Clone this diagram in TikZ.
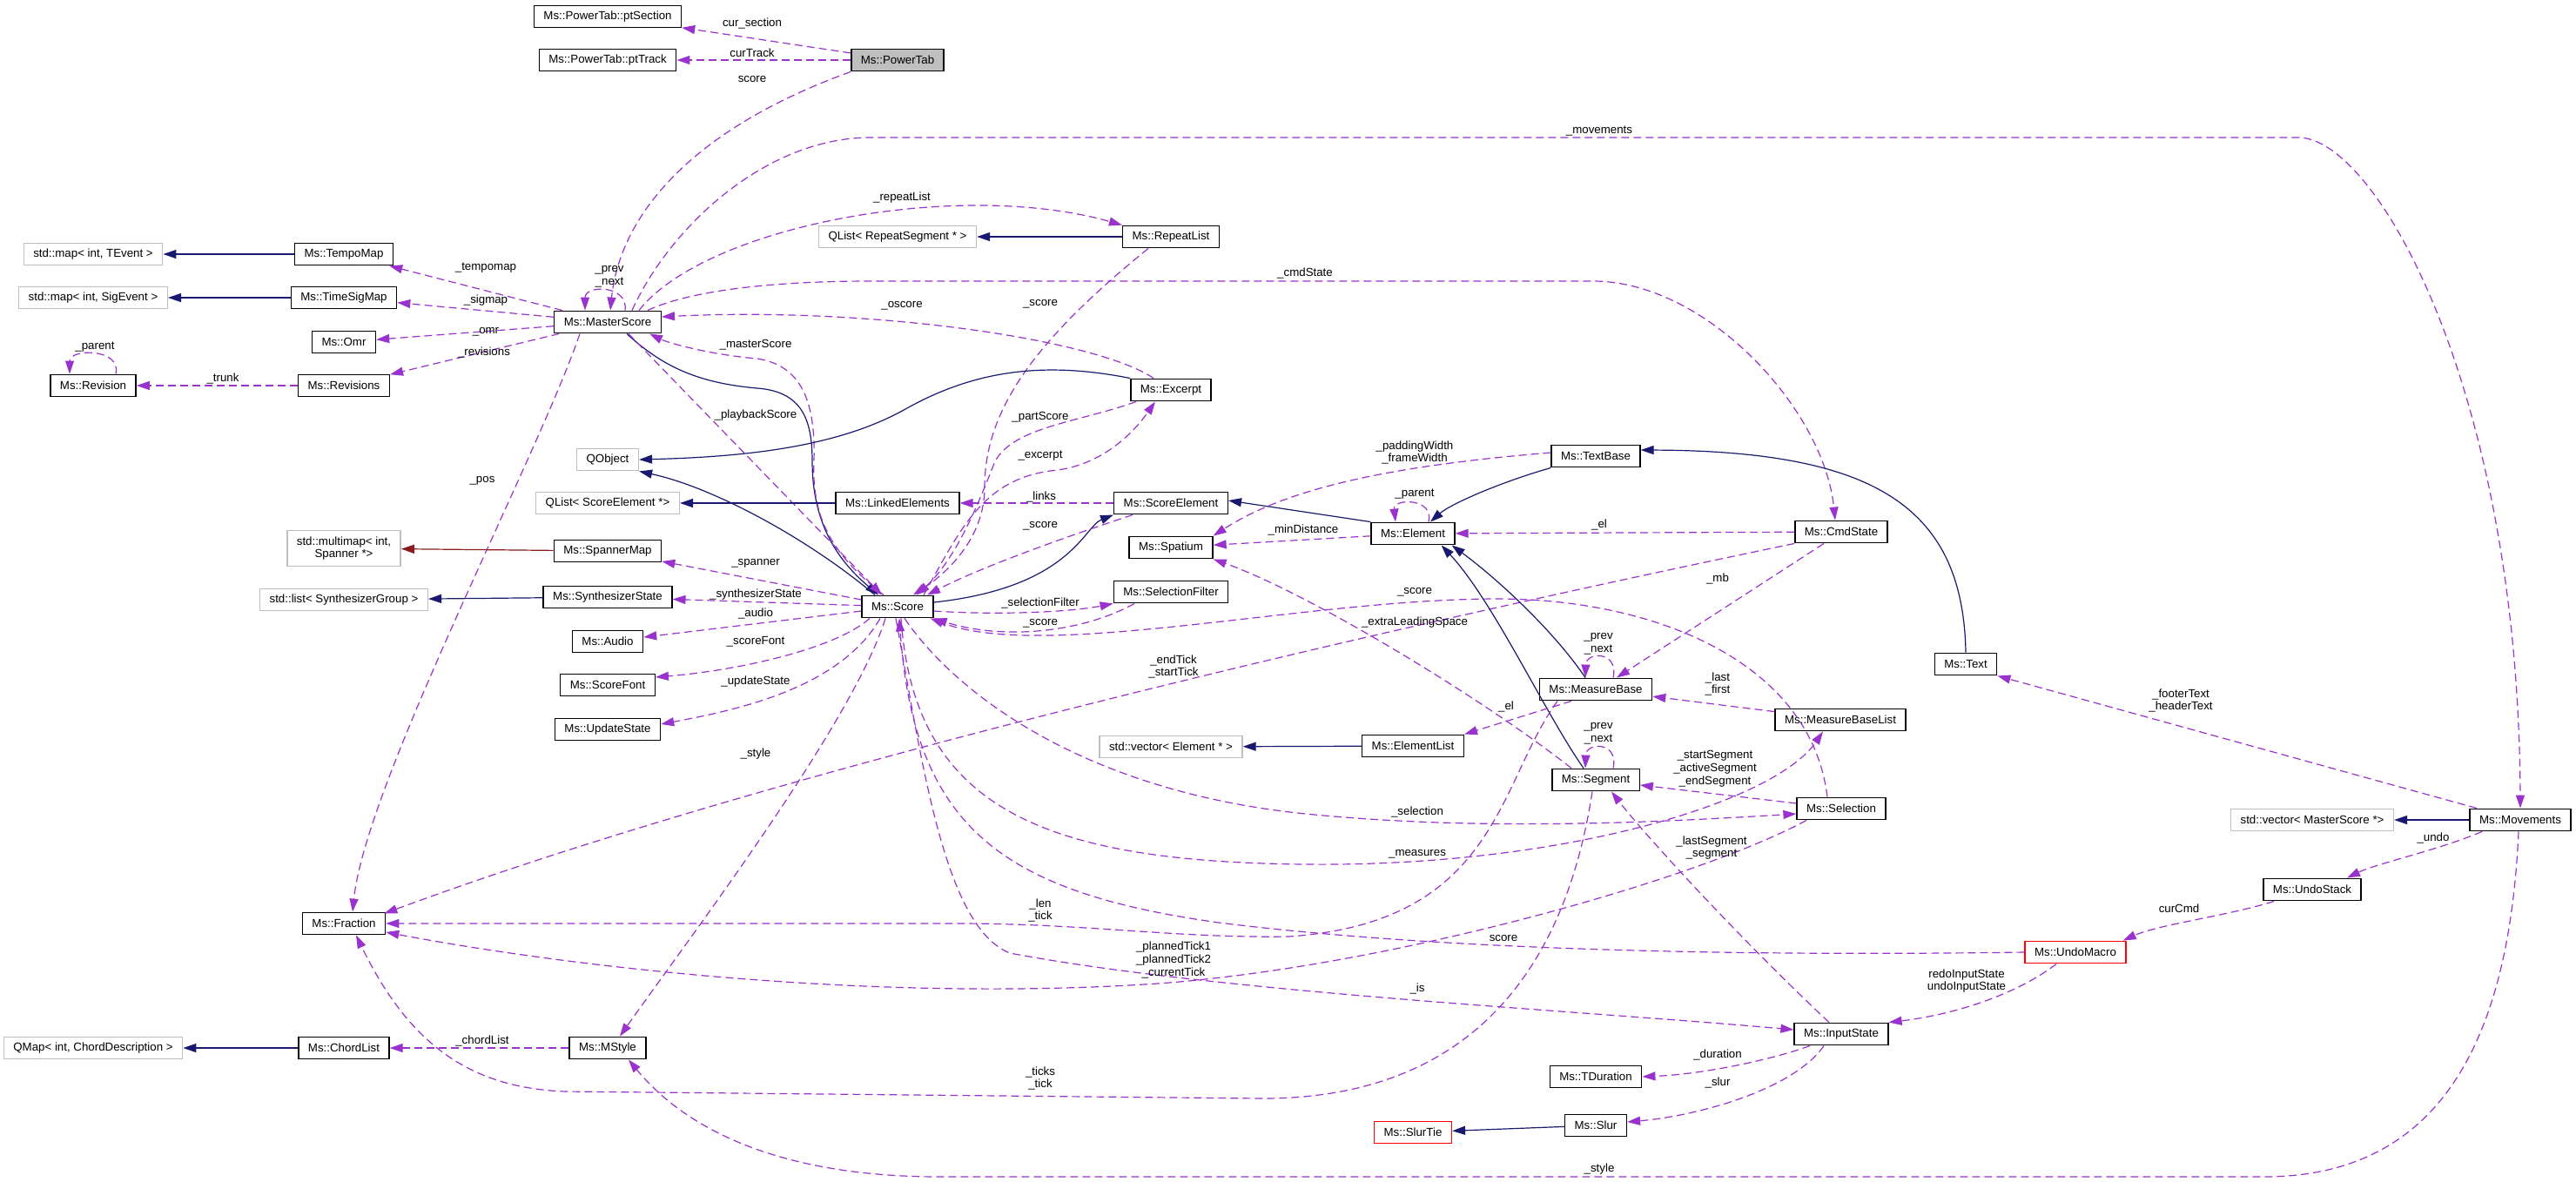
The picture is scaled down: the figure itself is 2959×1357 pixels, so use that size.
\documentclass[tikz,border=0pt]{standalone}
\usepackage{fontspec}
\setmainfont{Liberation Sans}
\usepackage{tikz}
\usetikzlibrary{arrows.meta}
\definecolor{useline}{HTML}{9A32CD}
\definecolor{inhline}{HTML}{191970}
\definecolor{tplline}{HTML}{8B1A1A}
\definecolor{extgray}{HTML}{BFBFBF}

\begin{document}
\begin{tikzpicture}[x=0.5pt, y=-0.5pt,
	every node/.style={font=\fontsize{6.65pt}{7.4pt}\selectfont},
	cls/.style={draw=black, line width=0.7pt, fill=white, inner xsep=5.5pt, inner ysep=1pt, minimum height=12.75pt},
	ext/.style={cls, draw=extgray},
	uses/.style={draw=useline, line width=0.6pt, dash pattern=on 4.5pt off 2.5pt, -{Triangle[length=7.5pt, width=5pt]}},
	isa/.style={draw=inhline, line width=0.6pt, -{Triangle[length=7.5pt, width=5pt]}},
	tpl/.style={isa, draw=tplline},
	lbl/.style={inner sep=0.5pt, align=center}]
	\useasboundingbox (0,0) rectangle (2959,1357);

	\node[ext] (mapTEvent) at (107,292) {std::map< int, TEvent >};
	\node[ext] (mapSigEvent) at (107,342) {std::map< int, SigEvent >};
	\node[cls] (revision) at (107,443) {Ms::Revision};
	\node[ext] (qmapChord) at (107,1204) {QMap< int, ChordDescription >};

	\node[cls] (tempoMap) at (395,292) {Ms::TempoMap};
	\node[cls] (timeSigMap) at (395,342) {Ms::TimeSigMap};
	\node[cls] (omr) at (395,393) {Ms::Omr};
	\node[cls] (revisions) at (395,443) {Ms::Revisions};
	\node[ext, align=center, minimum height=20.5pt] (spannerMultimap) at (395,630) {std::multimap< int,\\Spanner *>};
	\node[ext] (synthList) at (395,689) {std::list< SynthesizerGroup >};
	\node[cls] (fraction) at (395,1061) {Ms::Fraction};
	\node[cls] (chordList) at (395,1204) {Ms::ChordList};

	\node[cls] (ptSection) at (698,19) {Ms::PowerTab::ptSection};
	\node[cls] (ptTrack) at (698,69) {Ms::PowerTab::ptTrack};
	\node[cls] (masterScore) at (698,370) {Ms::MasterScore};
	\node[ext] (qobject) at (698,528) {QObject};
	\node[ext] (seList) at (698,578) {QList< ScoreElement *>};
	\node[cls] (spannerMap) at (698,633) {Ms::SpannerMap};
	\node[cls] (synthState) at (698,686) {Ms::SynthesizerState};
	\node[cls] (audio) at (698,737) {Ms::Audio};
	\node[cls] (scoreFont) at (698,787) {Ms::ScoreFont};
	\node[cls] (updateState) at (698,838) {Ms::UpdateState};
	\node[cls] (mstyle) at (698,1204) {Ms::MStyle};

	\node[cls, fill=extgray] (powerTab) at (1031,69) {Ms::PowerTab};
	\node[ext] (rsList) at (1031,272) {QList< RepeatSegment * >};
	\node[cls] (linkedElements) at (1031,578) {Ms::LinkedElements};
	\node[cls] (score) at (1031,697) {Ms::Score};

	\node[cls] (repeatList) at (1345,272) {Ms::RepeatList};
	\node[cls] (excerpt) at (1345,448) {Ms::Excerpt};
	\node[cls] (scoreElement) at (1345,578) {Ms::ScoreElement};
	\node[cls] (spatium) at (1345,629) {Ms::Spatium};
	\node[cls] (selectionFilter) at (1345,680) {Ms::SelectionFilter};
	\node[ext] (vecElement) at (1345,858) {std::vector< Element * >};

	\node[cls] (element) at (1623,613) {Ms::Element};
	\node[cls] (elementList) at (1623,857) {Ms::ElementList};
	\node[cls, draw=red] (slurTie) at (1623,1301) {Ms::SlurTie};

	\node[cls] (textBase) at (1833,524) {Ms::TextBase};
	\node[cls] (measureBase) at (1833,792) {Ms::MeasureBase};
	\node[cls] (segment) at (1833,896) {Ms::Segment};
	\node[cls] (tduration) at (1833,1237) {Ms::TDuration};
	\node[cls] (slur) at (1833,1293) {Ms::Slur};

	\node[cls] (cmdState) at (2115,611) {Ms::CmdState};
	\node[cls] (measureBaseList) at (2114,827) {Ms::MeasureBaseList};
	\node[cls] (selection) at (2115,929) {Ms::Selection};
	\node[cls] (inputState) at (2115,1188) {Ms::InputState};
	\node[cls] (text) at (2258,763) {Ms::Text};
	\node[cls, draw=red] (undoMacro) at (2384,1094) {Ms::UndoMacro};
	\node[ext] (vecMS) at (2656,942) {std::vector< MasterScore *>};
	\node[cls] (undoStack) at (2656,1022) {Ms::UndoStack};
	\node[cls] (movements) at (2895,942) {Ms::Movements};

	\draw[uses] (powerTab) -- (ptSection) node[lbl] (lblCurSection) at (864,27) {cur\_section};
	\draw[uses] (powerTab) -- (ptTrack) node[lbl] (lblCurTrack) at (864,61) {curTrack};
	\draw[uses] (powerTab.south west) .. controls (790,150) and (712,250) .. ([xshift=1.5pt]masterScore.north) node[lbl] (lblPtScore) at (864,91) {score};

	\draw[isa] (tempoMap) -- (mapTEvent);
	\draw[isa] (timeSigMap) -- (mapSigEvent);
	\draw[uses] (masterScore) -- (tempoMap) node[lbl] (lblTempomap) at (558,308) {\_tempomap};
	\draw[uses] (masterScore) -- (timeSigMap) node[lbl] (lblSigmap) at (558,345) {\_sigmap};
	\draw[uses] (masterScore) -- (omr) node[lbl] (lblOmr) at (558,381) {\_omr};
	\draw[uses] (masterScore) -- (revisions) node[lbl] (lblRevisions) at (556,405) {\_revisions};
	\draw[uses] (revisions) -- (revision) node[lbl] (lblTrunk) at (256,435) {\_trunk};
	\draw[uses] ([xshift=13pt]revision.north) .. controls (140,400) and (80,400) .. ([xshift=-13.5pt]revision.north) node[lbl] (lblRevParent) at (109,399) {\_parent};
	\draw[uses] ([xshift=10pt]masterScore.north) .. controls (722,327) and (672,327) .. ([xshift=-13pt]masterScore.north) node[lbl] (lblMsPrev) at (700,318) {\_prev\\\_next};

	\draw[uses] ([xshift=14pt]masterScore.north) .. controls (770,260) and (880,158) .. (1000,158) -- (2640,158) .. controls (2730,158) and (2893,450) .. (movements.north) node[lbl] (lblMovements) at (1837,151) {\_movements};
	\draw[uses] ([xshift=18pt]masterScore.north) .. controls (810,260) and (1100,205) .. (repeatList.north west) node[lbl] (lblRepeatList) at (1036,227) {\_repeatList};
	\draw[isa] (repeatList) -- (rsList);
	\draw[uses] ([xshift=23pt]masterScore.north) .. controls (790,335) and (880,323) .. (1000,323) -- (1830,323) .. controls (1960,323) and (2095,470) .. ([xshift=-3.5pt]cmdState.north) node[lbl] (lblCmdState) at (1499,314) {\_cmdState};
	\draw[uses] ([xshift=-10pt]excerpt.north) .. controls (1260,390) and (1000,352) .. ([yshift=3pt]masterScore.east) node[lbl] (lblOscore) at (1036,351) {\_oscore};
	\draw[uses] ([xshift=-13pt]repeatList.south) .. controls (1190,390) and (1131,470) .. (1131,560) .. controls (1131,620) and (1085,660) .. ([xshift=9pt]score.north) node[lbl] (lblRlScore) at (1195,349) {\_score};

	\draw[isa] ([xshift=11pt]masterScore.south) .. controls (760,420) and (800,440) .. (870,446) .. controls (920,450) and (933,480) .. (933,530) .. controls (933,610) and (970,650) .. ([xshift=-11pt]score.north);
	\draw[uses] ([xshift=-8pt]score.north) .. controls (960,640) and (932,600) .. (935,530) .. controls (937,460) and (920,420) .. (870,412) .. controls (820,408) and (770,395) .. ([xshift=24pt]masterScore.south) node[lbl] (lblMasterScore) at (868,396) {\_masterScore};
	\draw[uses] ([xshift=12pt]masterScore.south) -- ([xshift=-9pt]score.north) node[lbl] (lblPlayback) at (868,477) {\_playbackScore};
	\draw[uses] ([xshift=-16pt]masterScore.south) .. controls (620,520) and (420,900) .. ([xshift=5pt]fraction.north) node[lbl] (lblPos) at (554,552) {\_pos};

	\draw[isa] (excerpt.north west) .. controls (1200,415) and (1120,425) .. (1040,470) .. controls (960,515) and (850,525) .. (qobject.east);
	\draw[isa] ([xshift=-13pt]score.north) .. controls (930,620) and (820,560) .. (qobject.south east);
	\draw[isa] (linkedElements) -- (seList);
	\draw[uses] (scoreElement) -- (linkedElements) node[lbl] (lblLinks) at (1196,571) {\_links};
	\draw[uses] ([xshift=15pt]score.north) .. controls (1105,605) and (1130,548) .. (1215,540) .. controls (1265,533) and (1300,500) .. ([xshift=-9pt]excerpt.south) node[lbl] (lblExcerpt) at (1195,524) {\_excerpt};
	\draw[uses] ([xshift=-20pt]excerpt.south) .. controls (1240,485) and (1165,490) .. (1143,530) .. controls (1125,575) and (1100,640) .. ([xshift=11pt]score.north) node[lbl] (lblPartScore) at (1195,479) {\_partScore};
	\draw[isa] ([yshift=2.5pt]score.east) .. controls (1230,675) and (1245,605) .. (scoreElement.south west);
	\draw[uses] ([xshift=-22pt]scoreElement.south) .. controls (1230,615) and (1130,650) .. ([xshift=17pt]score.north) node[lbl] (lblSeScore) at (1195,604) {\_score};
	\draw[uses] ([yshift=-2.5pt]score.east) .. controls (1150,707) and (1230,703) .. (selectionFilter.south west) node[lbl] (lblSelFilter) at (1195,693) {\_selectionFilter};
	\draw[uses] ([xshift=-21pt]selectionFilter.south) .. controls (1240,728) and (1150,735) .. (score.south east) node[lbl] (lblSfScore) at (1195,716) {\_score};
	\draw[uses] ([xshift=-8pt]selection.north) .. controls (2080,760) and (1900,688) .. (1720,688) .. controls (1500,688) and (1200,760) .. ([xshift=-2pt]score.south east) node[lbl] (lblSelScore) at (1625,680) {\_score};

	\draw[uses] (score) -- (spannerMap) node[lbl] (lblSpanner) at (868,647) {\_spanner};
	\draw[tpl] (spannerMap) -- (spannerMultimap);
	\draw[uses] (score) -- (synthState) node[lbl] (lblSynth) at (868,683) {\_synthesizerState};
	\draw[isa] (synthState) -- (synthList);
	\draw[uses] (score) -- (audio) node[lbl] (lblAudio) at (868,705) {\_audio};
	\draw[uses] ([xshift=-16pt]score.south) .. controls (960,745) and (850,770) .. ([yshift=4.5pt]scoreFont.east) node[lbl] (lblScoreFont) at (868,737) {\_scoreFont};
	\draw[uses] ([xshift=-10pt]score.south) .. controls (965,790) and (850,815) .. ([yshift=3pt]updateState.east) node[lbl] (lblUpdate) at (868,783) {\_updateState};
	\draw[uses] ([xshift=-7pt]score.south) .. controls (980,830) and (790,1080) .. ([xshift=7pt]mstyle.north) node[lbl] (lblStyle) at (868,866) {\_style};
	\draw[uses] (mstyle) -- (chordList) node[lbl] (lblChordList) at (554,1196) {\_chordList};
	\draw[isa] (chordList) -- (qmapChord);
	\draw[uses] ([xshift=-1pt]movements.south) .. controls (2882,1200) and (2800,1352) .. (2600,1352) -- (1080,1352) .. controls (900,1352) and (790,1300) .. ([xshift=12pt]mstyle.south) node[lbl] (lblMvStyle) at (1837,1343) {\_style};

	\draw[isa] (textBase.south west) .. controls (1720,555) and (1665,580) .. ([xshift=10pt]element.north);
	\draw[isa] (text.north) .. controls (2255,580) and (2150,518) .. ([yshift=3.5pt]textBase.east);
	\draw[uses] ([yshift=2pt]textBase.west) .. controls (1600,535) and (1480,560) .. (spatium.north east) node[lbl] (lblPadding) at (1625,520) {\_paddingWidth\\\_frameWidth};
	\draw[isa] (element.north west) -- ([yshift=1.5pt]scoreElement.east);
	\draw[uses] (element) -- (spatium) node[lbl] (lblMinDist) at (1497,609) {\_minDistance};
	\draw[uses] ([xshift=9pt]element.north) .. controls (1648,572) and (1600,572) .. ([xshift=-10pt]element.north) node[lbl] (lblElParent) at (1625,568) {\_parent};
	\draw[uses] (cmdState) -- (element) node[lbl] (lblCsEl) at (1837,603) {\_el};
	\draw[uses] ([xshift=-10pt]cmdState.south) -- ([xshift=12pt]measureBase.north) node[lbl] (lblMb) at (1973,665) {\_mb};
	\draw[uses] (cmdState.south west) .. controls (1600,720) and (900,880) .. ([xshift=-1pt,yshift=-1pt]fraction.north east) node[lbl] (lblStartTick) at (1348,766) {\_endTick\\\_startTick};

	\draw[isa] ([xshift=-6pt]measureBase.north) .. controls (1785,725) and (1720,665) .. ([xshift=-2pt]element.south east);
	\draw[isa] ([xshift=-7pt]segment.north) .. controls (1775,820) and (1715,690) .. ([xshift=-8pt]element.south east);
	\draw[uses] ([xshift=10pt]measureBase.north) .. controls (1860,748) and (1822,748) .. ([xshift=-6pt]measureBase.north) node[lbl] (lblMbPrev) at (1836,740) {\_prev\\\_next};
	\draw[uses] ([xshift=10pt]segment.north) .. controls (1860,852) and (1822,852) .. ([xshift=-6pt]segment.north) node[lbl] (lblSegPrev) at (1836,843) {\_prev\\\_next};
	\draw[uses] ([xshift=-14pt]measureBase.south) -- (elementList.north east) node[lbl] (lblMbEl) at (1730,812) {\_el};
	\draw[isa] (elementList) -- (vecElement);
	\draw[uses] (measureBaseList) -- (measureBase) node[lbl] (lblFirst) at (1973,786) {\_last\\\_first};
	\draw[uses] ([xshift=-14pt]segment.north) .. controls (1700,800) and (1500,680) .. (spatium.south east) node[lbl] (lblLeading) at (1625,715) {\_extraLeadingSpace};
	\draw[uses] (selection) -- (segment) node[lbl] (lblSegments) at (1970,883) {\_startSegment\\\_activeSegment\\\_endSegment};

	\draw[uses] ([xshift=4pt]score.south) .. controls (1100,800) and (1250,910) .. (1500,935) .. controls (1700,955) and (1900,945) .. ([yshift=-3pt]selection.west) node[lbl] (lblSelection) at (1628,933) {\_selection};
	\draw[uses] ([xshift=2pt]score.south) .. controls (1050,930) and (1200,990) .. (1500,993) .. controls (1800,996) and (2040,920) .. ([xshift=-10pt]measureBaseList.south) node[lbl] (lblMeasures) at (1628,981) {\_measures};
	\draw[uses] (undoMacro.west) .. controls (1900,1100) and (1600,1085) .. (1400,1060) .. controls (1150,1025) and (1050,950) .. ([xshift=1pt]score.south) node[lbl] (lblUmScore) at (1727,1078) {score};
	\draw[uses] ([xshift=-1pt]score.south) .. controls (1060,880) and (1085,1065) .. (1160,1095) .. controls (1400,1140) and (1800,1160) .. ([yshift=2.5pt]inputState.west) node[lbl] (lblIs) at (1628,1136) {\_is};
	\draw[uses] ([xshift=-20pt]selection.south) .. controls (1950,1010) and (1600,1110) .. (1330,1130) .. controls (1000,1152) and (650,1110) .. ([yshift=-5pt]fraction.east) node[lbl] (lblPlanned) at (1348,1103) {\_plannedTick1\\\_plannedTick2\\\_currentTick};
	\draw[uses] ([xshift=-22pt]measureBase.south) .. controls (1720,900) and (1720,1060) .. (1480,1076) .. controls (1350,1078) and (1250,1061) .. (1100,1061) -- (fraction.east) node[lbl] (lblLen) at (1195,1046) {\_len\\\_tick};
	\draw[uses] ([xshift=-2pt]segment.south) .. controls (1800,1100) and (1700,1262) .. (1450,1262) -- (650,1254) .. controls (540,1250) and (470,1200) .. ([xshift=7pt]fraction.south) node[lbl] (lblTicks) at (1195,1239) {\_ticks\\\_tick};

	\draw[uses] ([xshift=-7pt]inputState.north) .. controls (2000,1080) and (1890,960) .. ([xshift=9pt]segment.south) node[lbl] (lblLastSeg) at (1966,974) {\_lastSegment\\\_segment};
	\draw[uses] ([xshift=-18pt]inputState.south) .. controls (2040,1216) and (1960,1234) .. (tduration.east) node[lbl] (lblDuration) at (1973,1212) {\_duration};
	\draw[uses] ([xshift=-10pt]inputState.south) .. controls (2060,1252) and (1950,1282) .. ([yshift=2pt]slur.east) node[lbl] (lblSlur) at (1973,1244) {\_slur};
	\draw[isa] (slur) -- (slurTie);
	\draw[uses] ([xshift=-11pt]undoMacro.south) .. controls (2320,1140) and (2250,1165) .. (inputState.north east) node[lbl] (lblInputState) at (2259,1127) {redoInputState\\undoInputState};
	\draw[uses] ([xshift=-22pt]undoStack.south) .. controls (2560,1052) and (2480,1062) .. ([xshift=-2pt]undoMacro.north east) node[lbl] (lblCurCmd) at (2503,1044) {curCmd};
	\draw[uses] ([xshift=-22pt]movements.south) .. controls (2800,977) and (2730,992) .. ([xshift=20pt]undoStack.north) node[lbl] (lblUndo) at (2795,963) {\_undo};
	\draw[isa] (movements) -- (vecMS);
	\draw[uses] ([xshift=-25pt]movements.north) -- (text.south east) node[lbl] (lblHeader) at (2505,805) {\_footerText\\\_headerText};
\end{tikzpicture}
\end{document}
